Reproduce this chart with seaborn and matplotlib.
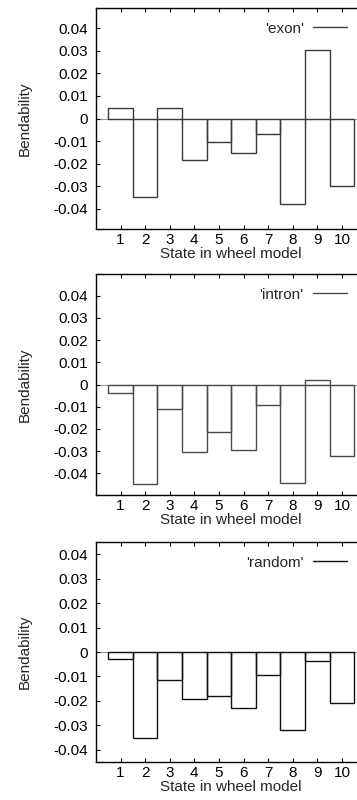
"""Bendability per state in the wheel model: exon / intron / random."""
import matplotlib
matplotlib.use("Agg")
import matplotlib.pyplot as plt
import numpy as np
import pandas as pd
import seaborn as sns
from matplotlib.lines import Line2D

states = list(range(1, 11))
exon = [0.0047, -0.0347, 0.0046, -0.0185, -0.0104, -0.0151, -0.0067, -0.0380, 0.0302, -0.0298]
intron = [-0.0036, -0.0447, -0.0108, -0.0303, -0.0212, -0.0295, -0.0092, -0.0442, 0.0021, -0.0323]
random_ = [-0.0027, -0.0353, -0.0115, -0.0192, -0.0181, -0.0231, -0.0094, -0.0318, -0.0037, -0.0209]
yticks = [-0.04, -0.03, -0.02, -0.01, 0, 0.01, 0.02, 0.03, 0.04]
ytick_labels = ["-0.04", "-0.03", "-0.02", "-0.01", "0", "0.01", "0.02", "0.03", "0.04"]

sns.set_theme(style="ticks")
plt.rcParams["font.family"] = ["Liberation Sans", "DejaVu Sans"]

W, H = 357, 800
fig = plt.figure(figsize=(W / 100, H / 100), dpi=100)

# (name, values, top px, bottom px, ylim, colour)
panels = [
    ("'exon'", exon, 8, 229, 0.049, "#3a3a3a"),
    ("'intron'", intron, 274, 495, 0.0497, "#4a4a4a"),
    ("'random'", random_, 542, 762, 0.045, "#111111"),
]
x0, x1 = 96, 366.5
fs = 11

for label, vals, top, bottom, ylim, color in panels:
    ax = fig.add_axes([x0 / W, 1 - bottom / H, (x1 - x0) / W, (bottom - top) / H])
    df = pd.DataFrame({"state": states, "bend": vals})
    ax.axhline(0, color="#999999", lw=0.8, zorder=0)
    sns.barplot(data=df, x="state", y="bend", native_scale=True, width=1.0,
                fill=False, color=color, linewidth=1.0, errorbar=None, ax=ax)
    ax.set_xlim(0, 11)
    ax.set_ylim(-ylim, ylim)
    ax.set_xticks(states)
    ax.set_xticklabels([str(s) for s in states])
    ax.set_yticks(yticks)
    ax.set_yticklabels(ytick_labels)
    ax.tick_params(axis="both", direction="in", length=3, width=0.8,
                   labelsize=fs, pad=6, colors="black")
    ax.tick_params(axis="x", top=True, pad=3)
    for s in ax.spines.values():
        s.set_visible(True)
        s.set_color("black")
        s.set_linewidth(1.0)
    ax.set_xlabel("State in wheel model", fontsize=fs, labelpad=0)
    ax.set_ylabel("Bendability", fontsize=fs, labelpad=15)
    handle = Line2D([], [], color=color, lw=1.0)
    ax.legend([handle], [label], loc="upper right", bbox_to_anchor=(0.96, 0.98),
              frameon=False, markerfirst=False, fontsize=fs, handlelength=2.2,
              handletextpad=0.6, borderaxespad=0.2)

fig.savefig("out.png", dpi=100)
